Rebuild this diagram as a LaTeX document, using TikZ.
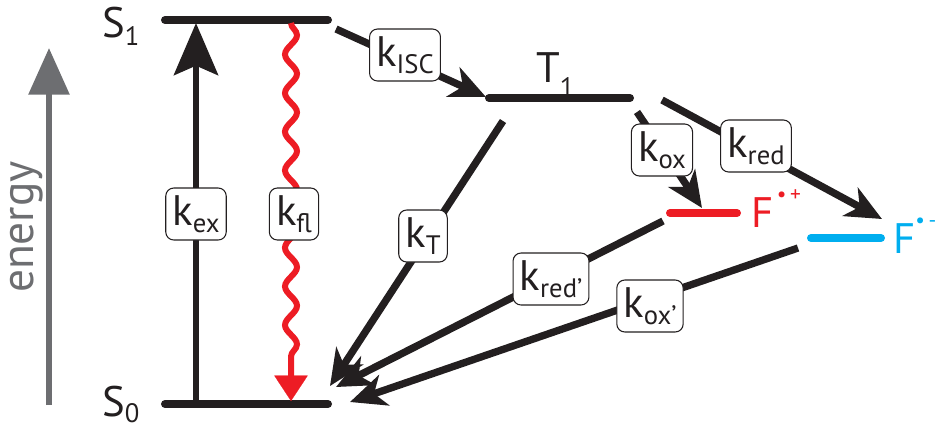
\documentclass[tikz,border=0pt]{standalone}
\usepackage{fontspec}
\setmainfont{PT Sans}
\usetikzlibrary{arrows.meta,decorations.pathmorphing}
\definecolor{ink}{RGB}{35,31,32}
\definecolor{fred}{RGB}{237,28,36}
\definecolor{fblue}{RGB}{0,174,239}
\definecolor{egray}{RGB}{109,110,113}
\newcommand{\ksub}[1]{k\raisebox{-0.17em}{\fontsize{20}{20}\selectfont #1}}
\tikzset{
  level/.style={line width=6pt, line cap=round, ink},
  trans/.style={line width=5.5pt, ink, -{Stealth[length=27pt,width=24pt,inset=8pt]}},
  bigup/.style={line width=5pt, ink, -{Stealth[length=39pt,width=33pt,inset=7pt]}},
  lbl/.style={draw=ink, line width=0.8pt, fill=white, rounded corners=6pt,
    inner xsep=5pt, inner ysep=0pt, minimum height=39pt, text=ink,
    font=\fontsize{32}{32}\selectfont},
  statelbl/.style={text=ink, font=\fontsize{32}{32}\selectfont, inner sep=0pt}
}
\begin{document}
\begin{tikzpicture}[x=0.75pt,y=-0.75pt]
\useasboundingbox (0,0) rectangle (936,430);
% energy axis
\coordinate (eb) at (49,405);
\coordinate (et) at (49,48);
\draw[egray, line width=4.5pt, -{Triangle[length=35pt,width=30pt]}] (eb) -- (et);
\node[rotate=90, text=egray, font=\fontsize{34}{34}\selectfont, inner sep=0pt] (energy) at (27,227) {energy};
% levels
\coordinate (s1a) at (165,20); \coordinate (s1b) at (328,20);
\coordinate (s0a) at (165,404); \coordinate (s0b) at (328,404);
\coordinate (t1a) at (489,98); \coordinate (t1b) at (630,98);
\coordinate (fpa) at (670,213); \coordinate (fpb) at (737,213);
\coordinate (fma) at (811,238); \coordinate (fmb) at (881,238);
\draw[level] (s1a) -- (s1b);
\draw[level] (s0a) -- (s0b);
\draw[level] (t1a) -- (t1b);
\draw[level, fred] (fpa) -- (fpb);
\draw[level, fblue] (fma) -- (fmb);
% state labels
\node[statelbl, anchor=base west] (S1) at (102,37) {S\raisebox{-0.2em}{\fontsize{20}{20}\selectfont 1}};
\node[statelbl, anchor=base west] (S0) at (102,416) {S\raisebox{-0.15em}{\fontsize{20}{20}\selectfont 0}};
\node[statelbl, anchor=base west] (T1) at (536,82) {T\raisebox{-0.35em}{\fontsize{20}{20}\selectfont 1}};
\node[statelbl, anchor=base west, text=fred] (Fp) at (751,227) {F\raisebox{0.6em}{\fontsize{16}{16}\selectfont \,•\,+}};
\node[statelbl, anchor=base west, text=fblue] (Fm) at (893,253) {F\raisebox{0.6em}{\fontsize{16}{16}\selectfont •\,-}};
% transitions
\coordinate (exa) at (196,404); \coordinate (exb) at (196,23);
\draw[bigup] (exa) -- (exb);
\coordinate (fla) at (291,23); \coordinate (flb) at (291,377); \coordinate (flc) at (291,401);
\draw[fred, line width=4.5pt, decorate, decoration={snake, amplitude=4.5pt, segment length=29pt, post length=2pt}] (fla) -- (flb);
\draw[fred, line width=0.1pt, -{Triangle[length=19pt,width=25pt]}] (flb) -- (flc);
\coordinate (isca) at (336,29); \coordinate (iscb) at (486,97);
\draw[trans] (isca) -- (iscb);
\coordinate (kta) at (503,121); \coordinate (ktb) at (330,386);
\draw[trans] (kta) -- (ktb);
\coordinate (oxa) at (637,112); \coordinate (oxb) at (702,208);
\draw[trans] (oxa) -- (oxb);
\coordinate (reda) at (662,100); \coordinate (redb) at (882,219);
\draw[trans] (reda) -- (redb);
\coordinate (rdpa) at (663,221); \coordinate (rdpb) at (336,387);
\draw[trans] (rdpa) -- (rdpb);
\coordinate (oxpa) at (798,248); \coordinate (oxpb) at (350,402);
\draw[trans] (oxpa) -- (oxpb);
% rate labels
\node[lbl] (kex) at (196,214) {\ksub{ex}};
\node[lbl] (kfl) at (294,214) {\ksub{fl}};
\node[lbl] (kisc) at (405,55) {\ksub{ISC}};
\node[lbl] (kt) at (423,236) {\ksub{T}};
\node[lbl] (kox) at (662,150) {\ksub{ox}};
\node[lbl] (kred) at (756,146) {\ksub{red}};
\node[lbl] (kredp) at (551,279) {\ksub{red\textquoteright}};
\node[lbl] (koxp) at (650,306) {\ksub{ox\textquoteright}};
\end{tikzpicture}
\end{document}
